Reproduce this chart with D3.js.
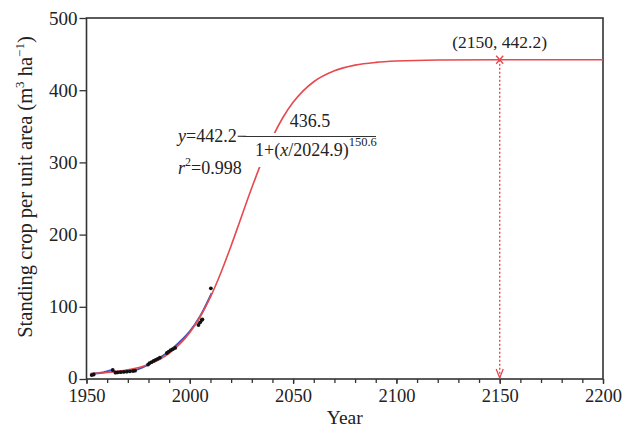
<!DOCTYPE html>
<html><head><meta charset="utf-8">
<script src="https://cdn.jsdelivr.net/npm/d3@7"></script>
<style>body{margin:0;background:#fff}svg{display:block}text{font-family:"Liberation Serif","DejaVu Serif",serif;fill:#222}</style>
</head><body><svg id="c" width="626" height="430"></svg>
<script>
// ---- data ----
const fitYears  = [1952,1960,1970,1980,1990,2000,2005,2010,2015,2020,2025,2030,2035,2040,2045,2050,2055,2060,2070,2080,2090,2100,2120,2150,2200];
const fitValues = [7.4,8.9,12.6,20.1,35.4,64.3,86.2,113.7,146.9,184.6,224.8,264.8,302.1,334.7,361.8,383.2,399.5,411.7,426.9,434.7,438.5,440.4,441.8,442.1,442.2];
const trendYears  = [1952,1958,1962.5,1964.5,1968,1973,1979,1985,1990,1995,2000,2005,2010.6];
const trendValues = [7,9,12,9.8,10.5,11.8,18.5,28.5,38.5,51,66,87,119];
const obsYears  = [1952.5,1953.5,1962.7,1964,1965,1966.5,1968,1969.5,1971,1972.5,1973.5,1979.8,1980.5,1981.5,1982.5,1983.5,1984.5,1985.5,1988.9,1989.8,1990.8,1991.8,1992.9,2004.2,2005,2005.8,2006.1,2010.2];
const obsValues = [5.5,6.2,12.5,8.8,9.1,9.4,9.8,10.2,10.6,11.1,11.5,20,22,23.5,25,26.5,28,29.5,36,38,40,41.5,43,74.8,78.5,81.7,82.7,125.6];
const xTicks = [1950,2000,2050,2100,2150,2200];
const xMinor = d3.range(1950,2201,10);
const yTicks = [0,100,200,300,400,500];
const markYear = 2150, markValue = 442.2;
const eqParts = {a:"442.2", b:"436.5", c:"2024.9", d:"150.6", r2:"0.998"};
const markLabel = "(2150, 442.2)";
const xTitle = "Year";

// ---- layout ----
const L=86.5, R=603, T=18, B=379;
const svg = d3.select("#c");
const x = d3.scaleLinear().domain([1950,2200]).range([L,R]);
const y = d3.scaleLinear().domain([0,500]).range([B,T]);
const axisColor = "#333", red = "#e6494e", blue = "#3d55c6";

// frame
svg.append("rect").attr("x",L).attr("y",T).attr("width",R-L).attr("height",B-T)
  .attr("fill","none").attr("stroke",axisColor).attr("stroke-width",1.6);

// minor x ticks
svg.append("g").attr("transform",`translate(0,${B})`)
  .call(d3.axisBottom(x).tickValues(xMinor).tickSize(4).tickFormat(""))
  .call(g=>{g.select(".domain").remove();g.selectAll("line").attr("stroke",axisColor).attr("stroke-width",1.3);});
// major x ticks
svg.append("g").attr("transform",`translate(0,${B})`)
  .call(d3.axisBottom(x).tickValues(xTicks).tickSize(5).tickPadding(5).tickFormat(d3.format("d")))
  .call(g=>{g.select(".domain").remove();g.selectAll("line").attr("stroke",axisColor).attr("stroke-width",1.3);
    g.selectAll("text").attr("font-size",18.5).attr("fill","#222").attr("font-family","Liberation Serif");});
// y ticks
svg.append("g").attr("transform",`translate(${L},0)`)
  .call(d3.axisLeft(y).tickValues(yTicks).tickSize(7).tickPadding(2))
  .call(g=>{g.select(".domain").remove();g.selectAll("line").attr("stroke",axisColor).attr("stroke-width",1.3);
    g.selectAll("text").attr("font-size",19).attr("fill","#222").attr("font-family","Liberation Serif")
      .attr("dy",d=>d===0?"0.22em":"0.32em");});

// axis titles
svg.append("text").attr("x",(L+R)/2).attr("y",424).attr("text-anchor","middle").attr("font-size",19.5).text(xTitle);
const yt = svg.append("text").attr("transform","translate(32,187) rotate(-90)").attr("text-anchor","middle").attr("font-size",20.5);
yt.append("tspan").text("Standing crop per unit area (m");
yt.append("tspan").attr("font-size",13).attr("dy",-8).text("3");
yt.append("tspan").attr("dy",8).text(" ha");
yt.append("tspan").attr("font-size",13).attr("dy",-8).text("\u22121");
yt.append("tspan").attr("dy",8).text(")");

// trend line (blue)
const line = d3.line().curve(d3.curveMonotoneX);
svg.append("path").attr("d",line(trendYears.map((d,i)=>[x(d),y(trendValues[i])])))
  .attr("fill","none").attr("stroke",blue).attr("stroke-width",2);
// fitted logistic curve (red)
svg.append("path").attr("d",line(fitYears.map((d,i)=>[x(d),y(fitValues[i])])))
  .attr("fill","none").attr("stroke",red).attr("stroke-width",1.6);
// observations
svg.append("g").selectAll("circle").data(obsYears).join("circle")
  .attr("cx",d=>x(d)).attr("cy",(d,i)=>y(obsValues[i])).attr("r",1.9).attr("fill","#111");

// annotation: dotted drop line with arrow and cross
svg.append("line").attr("x1",x(markYear)).attr("x2",x(markYear)).attr("y1",y(markValue)).attr("y2",B-1)
  .attr("stroke",red).attr("stroke-width",1.4).attr("stroke-dasharray","2,2");
svg.append("path").attr("d",`M${x(markYear)},${B-1} l-3.5,-9 M${x(markYear)},${B-1} l3.5,-9`)
  .attr("fill","none").attr("stroke",red).attr("stroke-width",1.3);
const cx0=x(markYear), cy0=y(markValue);
svg.append("path").attr("d",`M${cx0-3.5},${cy0-4}L${cx0+3.5},${cy0+4}M${cx0+3.5},${cy0-4}L${cx0-3.5},${cy0+4}`)
  .attr("stroke",red).attr("stroke-width",1.4);
svg.append("text").attr("x",x(markYear)).attr("y",48).attr("text-anchor","middle").attr("font-size",17.5).text(markLabel);

// equation (white backing hides curve)
svg.append("rect").attr("x",242).attr("y",133).attr("width",136).attr("height",34).attr("fill","#fff");
const e1 = svg.append("text").attr("x",178).attr("y",142).attr("font-size",18);
e1.append("tspan").attr("font-style","italic").text("y");
e1.append("tspan").text("="+eqParts.a+"\u2212");
svg.append("text").attr("x",310).attr("y",127).attr("text-anchor","middle").attr("font-size",18).text(eqParts.b);
svg.append("line").attr("x1",243).attr("x2",376).attr("y1",136.5).attr("y2",136.5).attr("stroke","#333").attr("stroke-width",1);
const e2 = svg.append("text").attr("x",255).attr("y",156).attr("font-size",18);
e2.append("tspan").text("1+(");
e2.append("tspan").attr("font-style","italic").text("x");
e2.append("tspan").text("/"+eqParts.c+")");
e2.append("tspan").attr("font-size",12.5).attr("dy",-10).text(eqParts.d);
const e3 = svg.append("text").attr("x",178).attr("y",174).attr("font-size",18);
e3.append("tspan").attr("font-style","italic").text("r");
e3.append("tspan").attr("font-size",12).attr("dy",-8).text("2");
e3.append("tspan").attr("dy",8).text("="+eqParts.r2);
</script></body></html>
